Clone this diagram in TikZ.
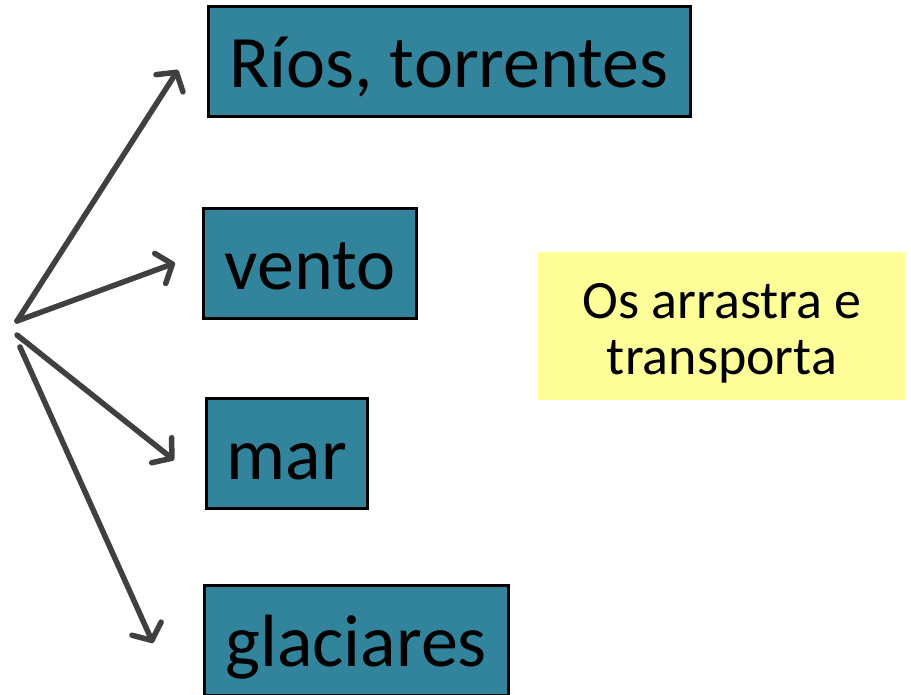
\documentclass[tikz,border=0pt]{standalone}
\usepackage{fontspec}
\setmainfont{Carlito}
\usetikzlibrary{arrows.meta}
\definecolor{boxteal}{HTML}{31849B}
\definecolor{noteyellow}{HTML}{FFFF99}
\definecolor{arrowgrey}{HTML}{404040}
\begin{document}
\begin{tikzpicture}[x=1pt,y=-1pt,
  agent/.style={draw=black, line width=3pt, fill=boxteal, text height=81pt, text depth=29pt, inner sep=0pt, font=\fontsize{74}{88}\selectfont},
  note/.style={fill=noteyellow, inner sep=0pt, minimum width=368pt, minimum height=148pt},
  notetext/.style={align=center, inner sep=0pt, font=\fontsize{54}{56}\selectfont},
  flow/.style={draw=arrowgrey, line width=5.5pt, line cap=round, line join=round, -{Straight Barb[length=13pt,width=32pt,round]}}]
\useasboundingbox (0,0) rectangle (911,694);
\begin{scope}
\clip (0,0) rectangle (911,694);
\node[agent, minimum width=482pt] (rios) at (449,61) {Ríos, torrentes};
\node[agent, minimum width=213pt] (vento) at (310,263) {vento};
\node[agent, minimum width=161pt] (mar) at (287,453) {mar};
\node[agent, minimum width=304pt] (glac) at (356,640) {glaciares};
\node[note] (nota) at (722,326) {};
\node[notetext] (notatxt) at (722,333) {Os arrastra e\\transporta};
\end{scope}
\coordinate (o1) at (17,321);
\coordinate (o2) at (17,335);
\coordinate (o3) at (20,347);
\coordinate (t1) at (178,70);
\coordinate (t2) at (175,263);
\coordinate (t3) at (174,460);
\coordinate (t4) at (153,643);
\draw[flow] (o1) -- (t1);
\draw[flow] (o1) -- (t2);
\draw[flow] (o2) -- (t3);
\draw[flow] (o3) -- (t4);
\end{tikzpicture}
\end{document}
